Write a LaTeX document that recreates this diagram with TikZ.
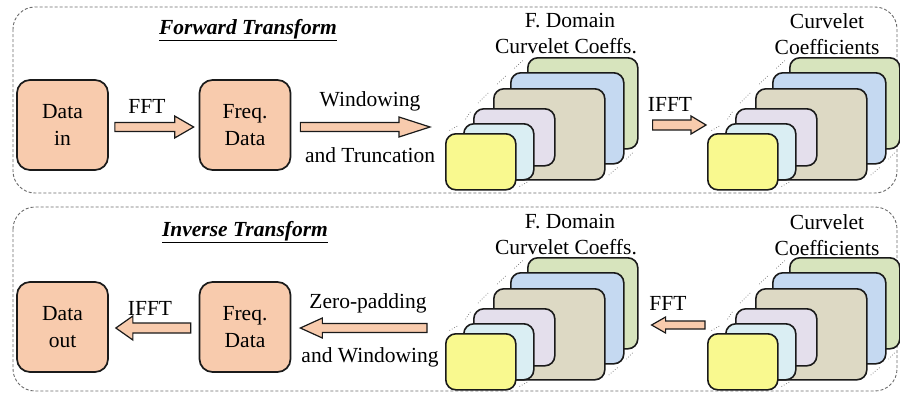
\documentclass[tikz,border=0pt]{standalone}
\usepackage{fontspec}
\setmainfont{Liberation Serif}
\usetikzlibrary{calc}
\definecolor{peach}{HTML}{F8CBAD}
\definecolor{cyel}{HTML}{F9F98F}
\definecolor{clb}{HTML}{DAEEF3}
\definecolor{clav}{HTML}{E4DFEC}
\definecolor{ctan}{HTML}{DDD9C4}
\definecolor{cblu}{HTML}{C5D9F1}
\definecolor{cgrn}{HTML}{D7E4BD}
\definecolor{edge}{HTML}{1A1A1A}
\tikzset{
 frame/.style={draw=gray!85!black, dash pattern=on 3pt off 2pt, line width=0.9pt, rounded corners=22pt},
 databox/.style={draw=edge, fill=peach, line width=1.7pt, rounded corners=13pt, minimum width=91pt, minimum height=90pt, align=center, inner sep=0pt, font=\fontsize{21.5}{27}\selectfont},
 layer/.style={draw=edge, line width=1.6pt, rounded corners=10pt, inner sep=0pt, anchor=north west},
 lbl/.style={font=\fontsize{21.5}{26}\selectfont, inner sep=0pt},
 ttl/.style={font=\fontsize{21.5}{26}\selectfont\bfseries\itshape, inner sep=0pt},
 barrow/.style={draw=edge, fill=peach, line width=1.2pt, line join=miter},
 persp/.style={draw=black!60, dotted, line width=0.7pt},
}
% #1 start, #2 tip, #3 shaft half, #4 head half, #5 signed head length
\newcommand\blockarrow[5]{%
 \draw[barrow] let \p1=(#1), \p2=(#2) in
 (\x1,{\y1+#3}) -- ({\x2-(#5)},{\y1+#3}) -- ({\x2-(#5)},{\y1+#4}) -- (\x2,\y1)
 -- ({\x2-(#5)},{\y1-#4}) -- ({\x2-(#5)},{\y1-#3}) -- (\x1,{\y1-#3}) -- cycle;}
\newcommand\pseg[2]{\draw[persp] ($(#1)!0.25!(#2)$) -- ($(#1)!0.75!(#2)$);}
% #1 prefix, #2 dx, #3 dy
\newcommand\cstack[3]{%
 \begin{scope}[shift={(#2,#3)}]
  \coordinate (#1gn) at (527,57);  \coordinate (#1gs) at (637,148);
  \coordinate (#1bn) at (510,72);  \coordinate (#1bs) at (623,163);
  \coordinate (#1tn) at (493,88);  \coordinate (#1ts) at (604,179);
  \coordinate (#1ln) at (473,108); \coordinate (#1ls) at (554,165);
  \coordinate (#1cn) at (463,123); \coordinate (#1cs) at (533,179);
  \coordinate (#1yn) at (445,133); \coordinate (#1ys) at (515,189);
  \pseg{#1yn}{#1cn}\pseg{#1cn}{#1ln}\pseg{#1ln}{#1tn}\pseg{#1tn}{#1bn}\pseg{#1bn}{#1gn}
  \pseg{#1ys}{#1cs}\pseg{#1cs}{#1ls}\pseg{#1ls}{#1ts}\pseg{#1ts}{#1bs}\pseg{#1bs}{#1gs}
  \node[layer, fill=cgrn, minimum width=110pt, minimum height=91pt] (#1g) at (#1gn) {};
  \node[layer, fill=cblu, minimum width=113pt, minimum height=91pt] (#1b) at (#1bn) {};
  \node[layer, fill=ctan, minimum width=111pt, minimum height=91pt] (#1t) at (#1tn) {};
  \node[layer, fill=clav, minimum width=81pt, minimum height=57pt] (#1l) at (#1ln) {};
  \node[layer, fill=clb, minimum width=70pt, minimum height=56pt] (#1c) at (#1cn) {};
  \node[layer, fill=cyel, minimum width=70pt, minimum height=56pt] (#1y) at (#1yn) {};
 \end{scope}}
\begin{document}
\begin{tikzpicture}[x=1pt,y=-1pt]
\useasboundingbox (0,0) rectangle (900,394);
\fill[white] (0,0) rectangle (900,394);
% frames
\draw[frame] (13,7) rectangle (897,193);
\draw[frame] (13,207) rectangle (897,391);
% ---------- forward ----------
\node[ttl] (tf) at (248,30) {\underline{Forward Transform}};
\node[databox] (din) at (62.5,125) {Data\\in};
\node[databox] (fd1) at (245,125) {Freq.\\Data};
\cstack{a}{0}{0}
\cstack{b}{262}{0}
\blockarrow{$(din.east)+(6,2)$}{$(fd1.west)+(-5,2)$}{4.5pt}{11pt}{19pt}
\node[lbl] (l1) at (147,106) {FFT};
\blockarrow{$(fd1.east)+(9,2)$}{$(ay.west)+(-15,0)$}{4.5pt}{10pt}{31pt}
\node[lbl] (l2) at (370,101) {Windowing};
\node[lbl] (l3) at (370,155) {and Truncation};
\blockarrow{$(ag.east |- din.east)+(14,0)$}{$(by.west)+(-1,0)$}{5pt}{9pt}{15pt}
\node[lbl] (l4) at (670,104) {IFFT};
\node[lbl] (l5) at (570,21) {F. Domain};
\node[lbl] (l6) at (566,46) {Curvelet Coeffs.};
\node[lbl] (l7) at (827,21) {Curvelet};
\node[lbl] (l8) at (827,47) {Coefficients};
% ---------- inverse ----------
\node[ttl] (ti) at (245,232) {\underline{Inverse Transform}};
\node[databox] (dout) at (62.5,327) {Data\\out};
\node[databox] (fd2) at (245,327) {Freq.\\Data};
\cstack{c}{0}{200}
\cstack{d}{262}{200}
\blockarrow{$(fd2.west)+(-8,1)$}{$(dout.east)+(7,1)$}{5pt}{12pt}{-17pt}
\node[lbl] (m1) at (150,308) {IFFT};
\blockarrow{$(cy.west |- fd2.east)+(-18,1)$}{$(fd2.east)+(9,1)$}{4.5pt}{10pt}{-22pt}
\node[lbl] (m2) at (368,303) {Zero-padding};
\node[lbl] (m3) at (370,357) {and Windowing};
\blockarrow{$(dy.west |- fd2.east)+(-2,-2)$}{$(cg.east |- fd2.east)+(13,-2)$}{4pt}{8pt}{-14pt}
\node[lbl] (m4) at (668,303) {FFT};
\node[lbl] (m5) at (570,222) {F. Domain};
\node[lbl] (m6) at (566,247) {Curvelet Coeffs.};
\node[lbl] (m7) at (827,222) {Curvelet};
\node[lbl] (m8) at (827,248) {Coefficients};
\end{tikzpicture}
\end{document}
